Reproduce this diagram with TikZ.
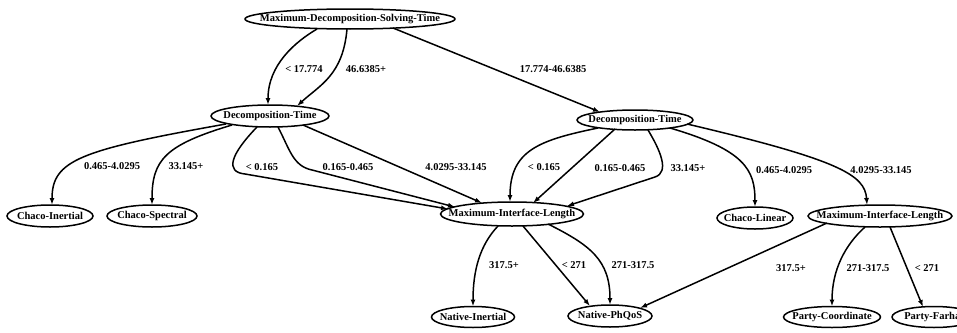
\documentclass[tikz,border=0pt]{standalone}
\usepackage{fontspec}
\setmainfont{Liberation Serif}
\usepackage{tikz}
\usetikzlibrary{shapes.geometric}
\usetikzlibrary{arrows.meta}
\usetikzlibrary{calc}

\begin{document}
\begin{tikzpicture}[x=1pt,y=-1pt,
  dnode/.style={ellipse,draw,line width=1.5pt,inner sep=0pt,font=\bfseries\fontsize{10.5}{12}\selectfont,
    execute at begin node={\hbox to 0pt\bgroup\hss},execute at end node={\hss\egroup}},
  branch/.style={line width=1.5pt,-{Latex[length=7pt,width=5pt]}},
  cond/.style={inner sep=0pt,font=\bfseries\fontsize{10.5}{12}\selectfont}]
\useasboundingbox (0,0) rectangle (957,332);
\node[dnode,minimum width=210pt,minimum height=20pt] (root) at (350,19) {Maximum-Decomposition-Solving-Time};
\node[dnode,minimum width=118pt,minimum height=22pt] (dtl) at (270,116) {Decomposition-Time};
\node[dnode,minimum width=116pt,minimum height=20pt] (dtr) at (635,120) {Decomposition-Time};
\node[dnode,minimum width=86pt,minimum height=22pt] (ci) at (50,216) {Chaco-Inertial};
\node[dnode,minimum width=90pt,minimum height=22pt] (cs) at (152,216) {Chaco-Spectral};
\node[dnode,minimum width=143pt,minimum height=24pt] (mil) at (512,214) {Maximum-Interface-Length};
\node[dnode,minimum width=76pt,minimum height=22pt] (cl) at (755,218) {Chaco-Linear};
\node[dnode,minimum width=144pt,minimum height=22pt] (mir) at (880,216) {Maximum-Interface-Length};
\node[dnode,minimum width=83pt,minimum height=21pt] (ni) at (473,317) {Native-Inertial};
\node[dnode,minimum width=84pt,minimum height=22pt] (np) at (610,316) {Native-PhQoS};
\node[dnode,minimum width=97pt,minimum height=21pt] (pc) at (832,317) {Party-Coordinate};
\node[dnode,minimum width=84pt,minimum height=21pt] (pf) at (934,317) {Party-Farhat};

\draw[branch] ($(root)+(-33,10)$) .. controls (295,42) and (268,65) .. ($(dtl)+(-2,-11)$);
\draw[branch] ($(root)+(-3,10)$) .. controls (343,75) and (320,85) .. ($(dtl)+(27,-10)$);
\draw[branch] ($(root)+(43,9)$) -- ($(dtr)+(-35,-8)$);
\draw[branch] ($(dtl)+(-44,8)$) .. controls (80,150) and (52,160) .. ($(ci)+(2,-11)$);
\draw[branch] ($(dtl)+(-38,9)$) .. controls (165,145) and (152,160) .. ($(cs)+(0,-11)$);
\draw[branch] ($(dtl)+(-13,11)$) .. controls (230,155) and (225,172) .. (245,174) -- ($(mil)+(-64,-5)$);
\draw[branch] ($(dtl)+(8,11)$) .. controls (290,150) and (293,166) .. (312,170) -- ($(mil)+(-57,-7)$);
\draw[branch] ($(dtl)+(33,9)$) -- ($(mil)+(-30,-11)$);
\draw[branch] ($(dtr)+(-37,8)$) .. controls (540,140) and (510,150) .. ($(mil)+(-2,-12)$);
\draw[branch] ($(dtr)+(-20,9)$) -- ($(mil)+(21,-11)$);
\draw[branch] ($(dtr)+(13,10)$) .. controls (660,150) and (670,172) .. (655,177) -- ($(mil)+(55,-8)$);
\draw[branch] ($(dtr)+(35,8)$) .. controls (745,150) and (755,170) .. ($(cl)+(0,-11)$);
\draw[branch] ($(dtr)+(52,4)$) .. controls (840,160) and (865,175) .. ($(mir)+(-13,-11)$);
\draw[branch] ($(mil)+(-14,12)$) .. controls (480,245) and (473,270) .. ($(ni)+(0,-10.5)$);
\draw[branch] ($(mil)+(11,12)$) -- ($(np)+(-20,-10)$);
\draw[branch] ($(mil)+(36,10)$) .. controls (590,245) and (610,260) .. ($(np)+(0,-11)$);
\draw[branch] ($(mir)+(-53,7)$) -- ($(np)+(30,-8)$);
\draw[branch] ($(mir)+(-15,11)$) .. controls (845,245) and (832,270) .. ($(pc)+(0,-10.5)$);
\draw[branch] ($(mir)+(10,11)$) -- ($(pf)+(-11,-10)$);

\node[cond] (l1) at (304,69) {< 17.774};
\node[cond] (l2) at (366,69) {46.6385+};
\node[cond] (l3) at (553,69) {17.774-46.6385};
\node[cond] (l4) at (112,166) {0.465-4.0295};
\node[cond] (l5) at (186,166) {33.145+};
\node[cond] (l6) at (262,167) {< 0.165};
\node[cond] (l7) at (348,167) {0.165-0.465};
\node[cond] (l8) at (456,167) {4.0295-33.145};
\node[cond] (l9) at (544,167) {< 0.165};
\node[cond] (l10) at (620,168) {0.165-0.465};
\node[cond] (l11) at (688,168) {33.145+};
\node[cond] (l12) at (784,170) {0.465-4.0295};
\node[cond] (l13) at (881,170) {4.0295-33.145};
\node[cond] (l14) at (504,265) {317.5+};
\node[cond] (l15) at (574,265) {< 271};
\node[cond] (l16) at (633,265) {271-317.5};
\node[cond] (l17) at (791,268) {317.5+};
\node[cond] (l18) at (868,268) {271-317.5};
\node[cond] (l19) at (927,268) {< 271};
\end{tikzpicture}
\end{document}
